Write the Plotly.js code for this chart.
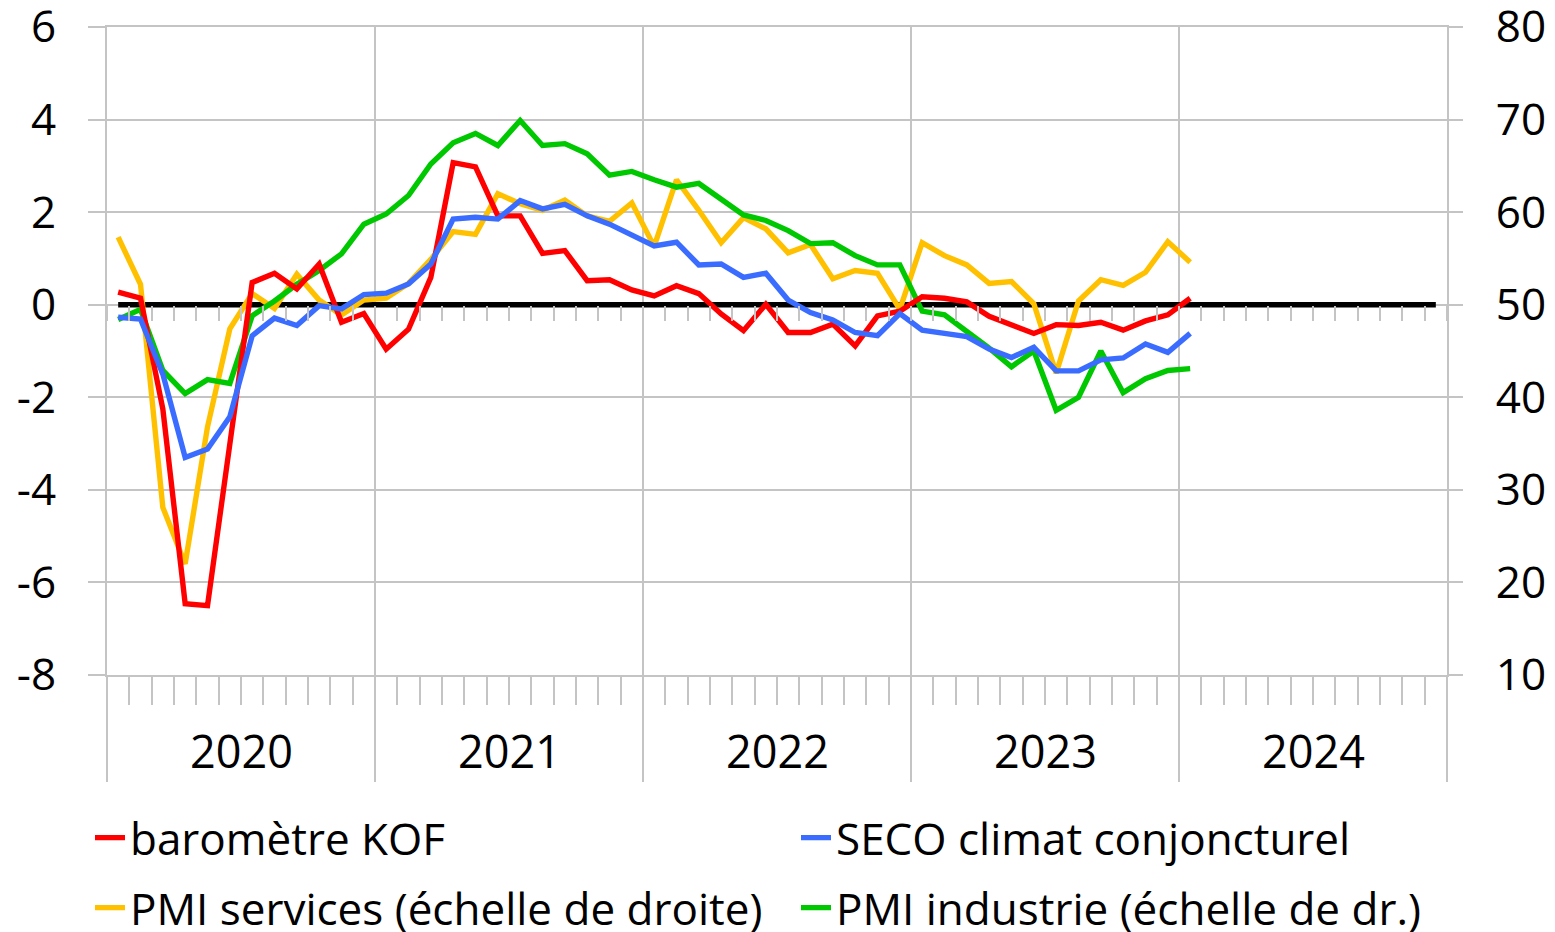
<!DOCTYPE html>
<html>
<head>
<meta charset="utf-8">
<script src="https://cdn.plot.ly/plotly-3.0.1.min.js"></script>
<style>html,body{margin:0;padding:0;background:#fff;}#chart{width:1555px;height:932px;}</style>
</head>
<body>
<div id="chart"></div>
<script>
// ---- data (monthly, Jan 2020 .. Jan 2024) ----
const years = ['2020', '2021', '2022', '2023', '2024'];
const seriesNames = ['baromètre KOF', 'SECO climat conjoncturel', 'PMI services (échelle de droite)', 'PMI industrie (échelle de dr.)'];
const leftTicks = [-8, -6, -4, -2, 0, 2, 4, 6];
const rightTicks = [10, 20, 30, 40, 50, 60, 70, 80];
const kof = [0.27, 0.14, -2.25, -6.46, -6.5, -3.05, 0.48, 0.68, 0.34, 0.88, -0.38, -0.19,
  -0.96, -0.53, 0.59, 3.07, 2.98, 1.92, 1.92, 1.11, 1.17, 0.52, 0.54, 0.32,
  0.19, 0.41, 0.24, -0.2, -0.56, 0.01, -0.6, -0.6, -0.42, -0.89, -0.24, -0.14,
  0.17, 0.14, 0.06, -0.25, -0.42, -0.62, -0.43, -0.45, -0.38, -0.55, -0.35, -0.22,
  0.14];
const seco = [-0.27, -0.31, -1.5, -3.3, -3.12, -2.42, -0.67, -0.29, -0.45, -0.02, -0.09, 0.22,
  0.25, 0.45, 0.88, 1.85, 1.89, 1.85, 2.25, 2.07, 2.17, 1.92, 1.74, 1.49,
  1.27, 1.35, 0.86, 0.88, 0.59, 0.68, 0.1, -0.17, -0.33, -0.6, -0.67, -0.19,
  -0.55, -0.62, -0.69, -0.96, -1.14, -0.92, -1.43, -1.43, -1.19, -1.15, -0.85, -1.03,
  -0.62];
const pmiServices = [57.3, 52.2, 28.1, 22.0, 36.8, 47.4, 51.2, 49.6, 53.3, 50.5, 48.9, 50.5,
  50.7, 52.3, 54.9, 57.9, 57.6, 62.0, 60.9, 60.2, 61.3, 59.6, 59.0, 61.0,
  56.3, 63.5, 60.2, 56.7, 59.4, 58.2, 55.6, 56.5, 52.8, 53.7, 53.4, 49.5,
  56.7, 55.3, 54.3, 52.3, 52.5, 50.1, 42.6, 50.4, 52.7, 52.1, 53.5, 56.8,
  54.6];
const pmiIndustrie = [48.4, 49.5, 42.9, 40.4, 41.9, 41.5, 48.8, 50.4, 52.2, 53.7, 55.5, 58.7,
  59.8, 61.8, 65.2, 67.5, 68.5, 67.2, 69.9, 67.2, 67.4, 66.3, 64.0, 64.4,
  63.5, 62.7, 63.1, 61.4, 59.7, 59.1, 58.0, 56.6, 56.7, 55.3, 54.3, 54.3,
  49.3, 48.9, 47.1, 45.3, 43.3, 45.0, 38.6, 40.0, 45.0, 40.5, 42.0, 42.9,
  43.1];

// ---- derived helpers ----
const monthsPerYear = 12;
const nMonths = years.length * monthsPerYear;
const idx = arr => arr.map((_, i) => i);
const allMonths = Array.from({length: nMonths}, (_, i) => i);
const zeroLine = allMonths.map(() => 0);
const monthBounds = Array.from({length: nMonths + 1}, (_, i) => i - 0.5);
const yearBounds = monthBounds.filter((_, i) => i % monthsPerYear === 0);
const yearCenters = years.map((_, k) => k * monthsPerYear + (monthsPerYear - 1) / 2);

const GRID = '#c4c4c4';
const FONT = 'Open Sans, Lato, sans-serif';
const FS = 44;
const LW = 5.4;
const xr = [-0.5, nMonths - 0.5];

const traces = [
  {x: allMonths, y: zeroLine, xaxis: 'x', yaxis: 'y', mode: 'lines', line: {color: '#000', width: 5.5}, showlegend: false, hoverinfo: 'skip'},
  {x: idx(kof), y: kof, xaxis: 'x2', yaxis: 'y', name: seriesNames[0], mode: 'lines', line: {color: '#ff0000', width: LW}, legend: 'legend'},
  {x: idx(seco), y: seco, xaxis: 'x2', yaxis: 'y', name: seriesNames[1], mode: 'lines', line: {color: '#3a6dff', width: LW}, legend: 'legend2'},
  {x: idx(pmiServices), y: pmiServices, xaxis: 'x', yaxis: 'y2', name: seriesNames[2], mode: 'lines', line: {color: '#ffc000', width: LW}, legend: 'legend3'},
  {x: idx(pmiIndustrie), y: pmiIndustrie, xaxis: 'x', yaxis: 'y2', name: seriesNames[3], mode: 'lines', line: {color: '#00c800', width: LW}, legend: 'legend4'}
];

function legendAt(px, py) {
  return {
    orientation: 'h', xref: 'container', yref: 'container', xanchor: 'left', yanchor: 'middle',
    x: px / 1555, y: 1 - py / 932,
    font: {family: FONT, size: FS, color: '#000'}, bgcolor: 'rgba(0,0,0,0)', borderwidth: 0,
    itemclick: false, itemdoubleclick: false
  };
}

const layout = {
  width: 1555, height: 932,
  margin: {l: 107, r: 108, t: 27, b: 257, autoexpand: false},
  paper_bgcolor: '#fff', plot_bgcolor: '#fff',
  font: {family: FONT, size: FS, color: '#000'},
  hovermode: false,
  xaxis: {
    type: 'linear', range: xr, tickmode: 'array', tickvals: yearBounds,
    showticklabels: false, ticks: 'outside', ticklen: 105, tickwidth: 2, tickcolor: GRID,
    showgrid: true, gridcolor: GRID, gridwidth: 2, zeroline: false,
    showline: true, mirror: true, linecolor: GRID, linewidth: 2,
    minor: {tickmode: 'array', tickvals: monthBounds, ticks: 'outside', ticklen: 28, tickwidth: 2, tickcolor: GRID, showgrid: false}
  },
  xaxis2: {
    type: 'linear', overlaying: 'x', anchor: 'free', position: 8 / 14, side: 'bottom', range: xr,
    tickmode: 'array', tickvals: monthBounds, ticks: 'outside', ticklen: 15, tickwidth: 2, tickcolor: GRID,
    showticklabels: false, showgrid: false, zeroline: false, showline: false
  },
  yaxis: {
    range: [-8, 6], tickmode: 'array', tickvals: leftTicks, ticktext: leftTicks.map(String),
    ticks: 'outside', ticklen: 17, tickwidth: 2, tickcolor: GRID,
    showgrid: true, gridcolor: GRID, gridwidth: 2, zeroline: false,
    showline: true, mirror: true, linecolor: GRID, linewidth: 2,
    tickfont: {family: FONT, size: FS, color: '#000'}, ticklabelstandoff: 23, ticklabeloverflow: 'allow'
  },
  yaxis2: {
    overlaying: 'y', side: 'right', anchor: 'x', range: [10, 80], tickmode: 'array', tickvals: rightTicks, ticktext: rightTicks.map(String),
    ticks: 'outside', ticklen: 15, tickwidth: 2, tickcolor: GRID,
    showgrid: false, zeroline: false, showline: false,
    tickfont: {family: FONT, size: FS, color: '#000'}, ticklabelstandoff: 24, ticklabeloverflow: 'allow'
  },
  annotations: years.map((yr, k) => ({
    text: yr, x: yearCenters[k], xref: 'x', y: 0, yref: 'paper', yanchor: 'middle', yshift: -75,
    showarrow: false, font: {family: FONT, size: 45, color: '#000'}
  })),
  legend: legendAt(90, 838),
  legend2: legendAt(796, 838),
  legend3: legendAt(90, 908),
  legend4: legendAt(796, 908)
};

Plotly.newPlot('chart', traces, layout, {displayModeBar: false, staticPlot: true});
</script>
</body>
</html>
